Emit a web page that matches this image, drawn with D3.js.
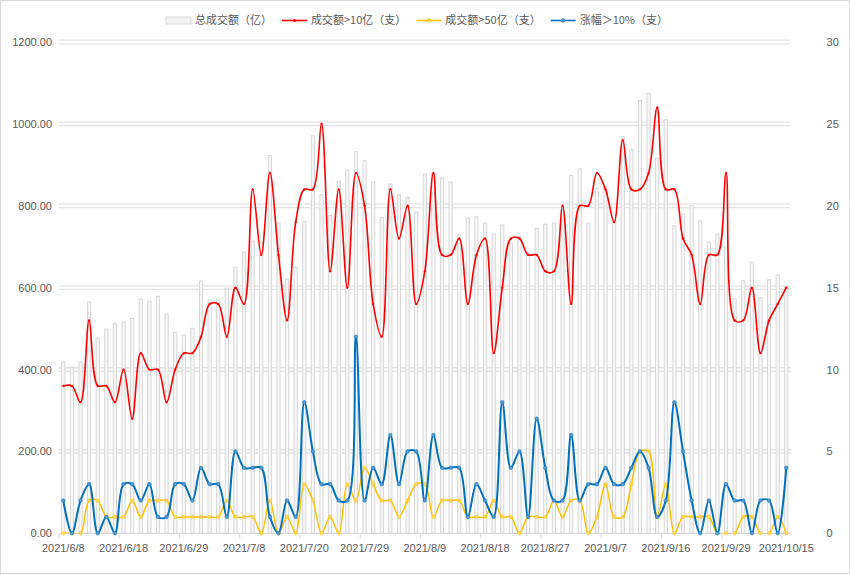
<!DOCTYPE html>
<html><head><meta charset="utf-8">
<script src="https://cdn.jsdelivr.net/npm/d3@7/dist/d3.min.js"></script>
<style>
html,body{margin:0;padding:0;background:#fff;}
svg{display:block;font-family:"Noto Sans CJK SC","Noto Sans",sans-serif;}
</style></head>
<body><svg id="c" width="850" height="574"></svg>
<script>
const dates = ["2021/6/8","2021/6/9","2021/6/10","2021/6/11","2021/6/15","2021/6/16","2021/6/17","2021/6/18","2021/6/21","2021/6/22","2021/6/23","2021/6/24","2021/6/25","2021/6/28","2021/6/29","2021/6/30",
"2021/7/1","2021/7/2","2021/7/5","2021/7/6","2021/7/7","2021/7/8","2021/7/9","2021/7/12","2021/7/13","2021/7/14","2021/7/15","2021/7/16","2021/7/20","2021/7/21","2021/7/22","2021/7/23","2021/7/26","2021/7/27","2021/7/28","2021/7/29","2021/7/30",
"2021/8/2","2021/8/3","2021/8/4","2021/8/5","2021/8/6","2021/8/9","2021/8/10","2021/8/11","2021/8/12","2021/8/13","2021/8/16","2021/8/17","2021/8/18","2021/8/19","2021/8/20","2021/8/23","2021/8/24","2021/8/25","2021/8/26","2021/8/27","2021/8/30","2021/8/31",
"2021/9/1","2021/9/2","2021/9/3","2021/9/6","2021/9/7","2021/9/8","2021/9/9","2021/9/10","2021/9/13","2021/9/14","2021/9/15","2021/9/16","2021/9/17","2021/9/22","2021/9/23","2021/9/24","2021/9/27","2021/9/28","2021/9/29","2021/9/30",
"2021/10/8","2021/10/11","2021/10/12","2021/10/13","2021/10/14","2021/10/15"];

const totalTurnover = [418,406,418,565,477,499,513,516,525,572,567,579,535,491,484,501,616,570,572,599,650,687,714,711,923,758,621,650,
762,971,827,776,860,888,932,910,858,771,853,827,821,785,877,880,868,858,731,770,773,758,731,753,709,725,686,745,755,758,
790,874,890,758,843,847,760,969,937,1057,1075,916,1010,751,780,800,763,711,731,700,573,617,662,576,619,631,603];

const over10 = [9,9,8,13,9,9,8,10,7,11,10,10,8,10,11,11,12,14,14,12,15,14,21,17,22,17,13,19,
21,21,25,16,21,15,22,20,14,12,21,18,20,14,16,22,17,17,18,14,17,18,11,15,18,18,17,17,
16,16,20,14,20,20,22,21,19,24,21,21,22,26,21,21,18,17,14,17,17,22,13,13,15,11,13,14,15];

const over50 = [0,0,0,2,2,1,1,1,2,1,2,2,2,1,1,1,1,1,1,2,1,1,1,0,2,0,1,0,3,2,0,1,0,3,2,4,3,2,2,1,2,3,
3,1,2,2,2,1,1,1,2,1,1,0,1,1,1,2,1,2,2,0,1,3,1,1,3,5,5,1,3,0,1,1,1,1,0,0,0,1,1,0,0,1,0];

const up10 = [2,0,2,3,0,1,0,3,3,2,3,1,1,3,3,2,4,3,3,1,5,
4,4,4,1,0,2,1,8,5,3,3,2,2,12,2,4,3,6,3,5,5,
2,6,4,4,4,1,3,2,1,8,4,5,1,7,4,2,2,6,2,3,3,
4,3,3,4,5,4,1,2,8,5,2,0,2,0,3,2,2,0,2,2,0,4];

const leftTicks = [0,200,400,600,800,1000,1200];
const rightTicks = [0,5,10,15,20,25,30];
const legendNames = ["总成交额（亿）","成交额>10亿（支）","成交额>50亿（支）","涨幅＞10%（支）"];

const svg = d3.select("#c");
const W = 850, H = 574;
const L = 59, R = 790.6, T = 42, B = 533.3;
const textColor = "#595959";

svg.append("rect").attr("x",0.5).attr("y",0.5).attr("width",W-1).attr("height",H-1)
  .attr("fill","#fff").attr("stroke","#d9d9d9");

const x = d3.scaleBand().domain(dates).range([L, R]).padding(0);
const cx = d => x(d) + x.bandwidth()/2;
const yL = d3.scaleLinear().domain([0,1200]).range([B, T]);
const yR = d3.scaleLinear().domain([0,30]).range([B, T]);

// gridlines (double)
const grid = svg.append("g");
leftTicks.filter(v=>v>0).forEach(v=>{
  [-1.8,1.8].forEach(o=>{
    grid.append("line").attr("x1",L).attr("x2",R).attr("y1",yL(v)+o).attr("y2",yL(v)+o)
      .attr("stroke","#e3e3e3").attr("stroke-width",1.3);
  });
});

// bars
svg.append("g").selectAll("rect").data(totalTurnover).join("rect")
  .attr("x",(d,i)=>cx(dates[i])-1.6)
  .attr("width",3.2)
  .attr("y",d=>yL(d))
  .attr("height",d=>B-yL(d))
  .attr("fill","#f7f7f7").attr("stroke","#d4d4d4").attr("stroke-width",0.9);

// x axis line and ticks
svg.append("line").attr("x1",L).attr("x2",R).attr("y1",B).attr("y2",B).attr("stroke","#d9d9d9").attr("stroke-width",1.2);
const tickDates = dates.filter((d,i)=>i%7===0);
svg.append("g").selectAll("line").data(tickDates).join("line")
  .attr("x1",d=>x(d)).attr("x2",d=>x(d)).attr("y1",B).attr("y2",B+5)
  .attr("stroke","#d9d9d9");

const gx = svg.append("g").attr("transform",`translate(0,${B})`)
  .call(d3.axisBottom(x).tickValues(tickDates).tickSize(0).tickPadding(11));
gx.select(".domain").remove();
gx.selectAll("text").attr("fill",textColor).attr("font-size","11px");

const gl = svg.append("g").attr("transform",`translate(${L},0)`)
  .call(d3.axisLeft(yL).tickValues(leftTicks).tickFormat(d3.format(".2f")).tickSize(0).tickPadding(7));
gl.select(".domain").remove();
gl.selectAll("text").attr("fill",textColor).attr("font-size","11px");

const gr = svg.append("g").attr("transform",`translate(${R},0)`)
  .call(d3.axisRight(yR).tickValues(rightTicks).tickSize(0).tickPadding(36));
gr.select(".domain").remove();
gr.selectAll("text").attr("fill",textColor).attr("font-size","11px");

// clip
svg.append("defs").append("clipPath").attr("id","plot").append("rect")
  .attr("x",L).attr("y",T-6).attr("width",R-L).attr("height",B-T+6);

const curve = d3.curveCatmullRom.alpha(0.5);
const series = [
  {vals: over10, color:"#ff0000", w:1.6, r:0.9, mf:"#ff0000"},
  {vals: over50, color:"#ffc000", w:1.5, r:1.7, mf:"#ffd966"},
  {vals: up10,   color:"#0070c0", w:2,   r:1.8, mf:"#5b9bd5"}
];
series.forEach(s=>{
  const line = d3.line().x((d,i)=>cx(dates[i])).y(d=>yR(d)).curve(curve);
  svg.append("path").attr("d",line(s.vals)).attr("fill","none")
    .attr("stroke",s.color).attr("stroke-width",s.w).attr("clip-path","url(#plot)");
  svg.append("g").selectAll("circle").data(s.vals).join("circle")
    .attr("cx",(d,i)=>cx(dates[i])).attr("cy",d=>yR(d)).attr("r",s.r)
    .attr("fill",s.mf).attr("stroke",s.color).attr("stroke-width",0.5);
});

// legend
const lg = svg.append("g").attr("font-size","11px").attr("fill",textColor);
let lx = 166; const ly = 20.5;
const legendStyles = [
  {type:"bar"},
  {type:"line", color:"#ff0000", mf:"#ff0000", r:1.2},
  {type:"line", color:"#ffc000", mf:"#ffd966", r:1.9},
  {type:"line", color:"#0070c0", mf:"#5b9bd5", r:1.9}
];
legendNames.forEach((name,i)=>{
  const st = legendStyles[i];
  if(st.type==="bar"){
    lg.append("rect").attr("x",lx).attr("y",ly-3.5).attr("width",25).attr("height",7)
      .attr("fill","#f2f2f2").attr("stroke","#d4d4d4").attr("stroke-width",0.8);
  } else {
    lg.append("line").attr("x1",lx).attr("x2",lx+25).attr("y1",ly).attr("y2",ly)
      .attr("stroke",st.color).attr("stroke-width",1.6);
    lg.append("circle").attr("cx",lx+12.5).attr("cy",ly).attr("r",st.r).attr("fill",st.mf).attr("stroke",st.color).attr("stroke-width",0.5);
  }
  const t = lg.append("text").attr("x",lx+29).attr("y",ly).attr("dy","0.36em").text(name);
  const w = t.node().getComputedTextLength();
  lx += 29 + w + 10;
});
</script></body></html>
